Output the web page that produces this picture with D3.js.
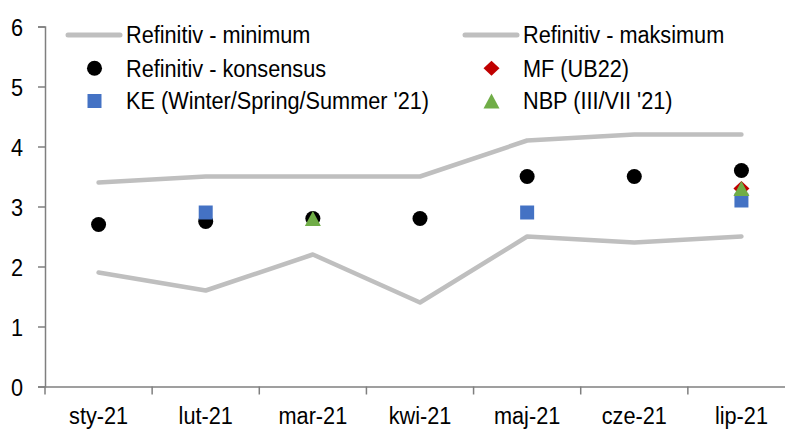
<!DOCTYPE html>
<html>
<head>
<meta charset="utf-8">
<script src="https://cdn.jsdelivr.net/npm/d3@7"></script>
<style>
  html, body { margin: 0; padding: 0; background: #fff; }
  svg { display: block; font-family: "Liberation Sans", Arial, sans-serif; }
</style>
</head>
<body>
<svg id="chart" width="785" height="430"></svg>
<script>
const categories = ["sty-21", "lut-21", "mar-21", "kwi-21", "maj-21", "cze-21", "lip-21"];
const minimum   = [1.9, 1.6, 2.2, 1.4, 2.5, 2.4, 2.5];
const maximum   = [3.4, 3.5, 3.5, 3.5, 4.1, 4.2, 4.2];
const konsensus = [2.7, 2.75, 2.8, 2.8, 3.5, 3.5, 3.6];
const ke        = [null, 2.9, null, null, 2.9, null, 3.1];
const mf        = [null, null, null, null, null, null, 3.3];
const nbp       = [null, null, 2.8, null, null, null, 3.3];
const yTicks    = [0, 1, 2, 3, 4, 5, 6];

const svg = d3.select("#chart");
const x = d3.scaleBand().domain(categories).range([45, 795]);
const y = d3.scaleLinear().domain([0, 6]).range([386.5, 26.5]);
const cx = c => x(c) + x.bandwidth() / 2;

const axisColor = "#7f7f7f";
const lineColor = "#bfbfbf";
const fs = 21.7;
const sy = 1.1; // vertical stretch of the text

// Y axis
const yAxis = svg.append("g").attr("transform", "translate(45,0)")
  .call(d3.axisLeft(y).tickValues(yTicks).tickSize(7).tickPadding(15).tickFormat(d3.format("d")));
yAxis.select(".domain").attr("stroke", axisColor).attr("stroke-width", 1.5);
yAxis.selectAll(".tick line").attr("stroke", axisColor).attr("stroke-width", 1.5);
yAxis.selectAll(".tick text").attr("font-size", fs).attr("fill", "#000")
  .attr("font-family", "Liberation Sans, Arial, sans-serif")
  .attr("dy", null).attr("y", 8.5 / sy).attr("transform", `scale(1,${sy})`);

// X axis
const xAxis = svg.append("g").attr("transform", "translate(0,386.5)")
  .call(d3.axisBottom(x).tickSize(0).tickPadding(22));
xAxis.select(".domain").attr("stroke", axisColor).attr("stroke-width", 1.5);
xAxis.selectAll(".tick text").attr("font-size", fs).attr("fill", "#000")
  .attr("font-family", "Liberation Sans, Arial, sans-serif")
  .attr("dy", null).attr("y", 37.8 / sy).attr("transform", `scale(1,${sy})`);
// boundary ticks between categories
const bounds = categories.map(c => x(c));
svg.append("g").selectAll("line").data(bounds).join("line")
  .attr("x1", d => d).attr("x2", d => d)
  .attr("y1", 386.5).attr("y2", 394.5)
  .attr("stroke", axisColor).attr("stroke-width", 1.5);

// Lines
const line = d3.line().x((d, i) => cx(categories[i])).y(d => y(d));
[minimum, maximum].forEach(arr => {
  svg.append("path").datum(arr).attr("d", line)
    .attr("fill", "none").attr("stroke", lineColor).attr("stroke-width", 4.5)
    .attr("stroke-linejoin", "round").attr("stroke-linecap", "round");
});

// marker shapes (centered on their bounding box)
const shapes = {
  circle: () => d3.symbol().type(d3.symbolCircle).size(177)(),
  square: () => "M-7,-7H7V7H-7Z",
  diamond: () => "M0,-7.5L8,0L0,7.5L-8,0Z",
  triangle: () => "M0,-7.5L8,7.5L-8,7.5Z"
};

function drawPoints(arr, shape, color) {
  svg.append("g").selectAll("path")
    .data(arr.map((v, i) => ({ v, c: categories[i] })).filter(d => d.v !== null))
    .join("path")
    .attr("d", shapes[shape]())
    .attr("transform", d => `translate(${cx(d.c)},${y(d.v)})`)
    .attr("fill", color);
}
drawPoints(konsensus, "circle", "#000000");
drawPoints(mf, "diamond", "#c00000");
drawPoints(ke, "square", "#4472c4");
drawPoints(nbp, "triangle", "#70ad47");

// Legend
const legend = svg.append("g").attr("font-size", fs).attr("fill", "#000");
const items = [
  { label: "Refinitiv - minimum",  kind: "line", lx: 68,  ly: 35 },
  { label: "Refinitiv - maksimum", kind: "line", lx: 465, ly: 35 },
  { label: "Refinitiv - konsensus", kind: "circle", color: "#000000", lx: 68, ly: 68.3 },
  { label: "MF (UB22)", kind: "diamond", color: "#c00000", lx: 465, ly: 68.3 },
  { label: "KE (Winter/Spring/Summer '21)", kind: "square", color: "#4472c4", lx: 68, ly: 101 },
  { label: "NBP (III/VII '21)", kind: "triangle", color: "#70ad47", lx: 465, ly: 101 }
];
items.forEach(it => {
  if (it.kind === "line") {
    legend.append("line").attr("x1", it.lx).attr("x2", it.lx + 52)
      .attr("y1", it.ly).attr("y2", it.ly)
      .attr("stroke", lineColor).attr("stroke-width", 5).attr("stroke-linecap", "round");
  } else {
    legend.append("path").attr("d", shapes[it.kind]())
      .attr("transform", `translate(${it.lx + 26.5},${it.ly})`).attr("fill", it.color);
  }
  legend.append("text").attr("x", it.lx + 58).attr("y", (it.ly + 8.5) / sy)
    .attr("transform", `scale(1,${sy})`)
    .text(it.label);
});
</script>
</body>
</html>
